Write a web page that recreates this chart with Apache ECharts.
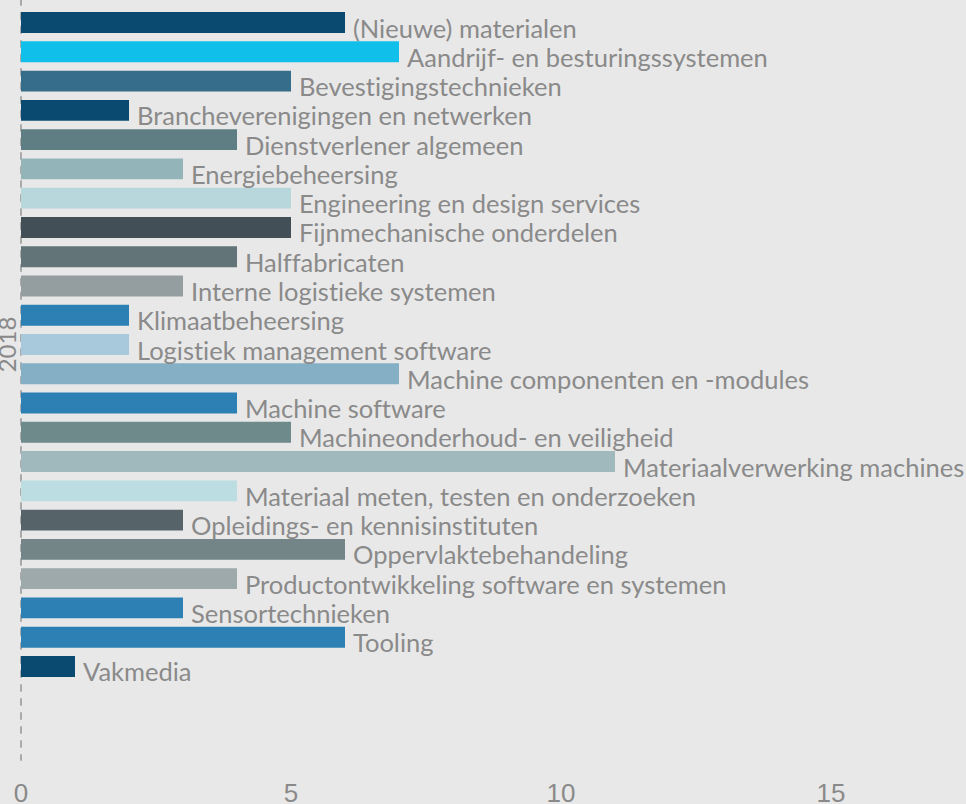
<!DOCTYPE html>
<html>
<head>
<meta charset="utf-8">
<script src="https://cdn.jsdelivr.net/npm/echarts@6/dist/echarts.min.js"></script>
<style>
  html, body { margin: 0; padding: 0; background: #e8e8e8; }
  #chart { width: 966px; height: 804px; }
  #chart text { font-variant-ligatures: none; }
</style>
</head>
<body>
<div id="chart"></div>
<script>
var categories = ['2018']

var seriesNames = [
  '(Nieuwe) materialen',
  'Aandrijf- en besturingssystemen',
  'Bevestigingstechnieken',
  'Brancheverenigingen en netwerken',
  'Dienstverlener algemeen',
  'Energiebeheersing',
  'Engineering en design services',
  'Fijnmechanische onderdelen',
  'Halffabricaten',
  'Interne logistieke systemen',
  'Klimaatbeheersing',
  'Logistiek management software',
  'Machine componenten en -modules',
  'Machine software',
  'Machineonderhoud- en veiligheid',
  'Materiaalverwerking machines',
  'Materiaal meten, testen en onderzoeken',
  'Opleidings- en kennisinstituten',
  'Oppervlaktebehandeling',
  'Productontwikkeling software en systemen',
  'Sensortechnieken',
  'Tooling',
  'Vakmedia'
]

var seriesValues = [6, 7, 5, 2, 4, 3, 5, 5, 4, 3, 2, 2, 7, 4, 5, 11, 4, 3, 6, 4, 3, 6, 1]

var seriesColors = [
  '#0a4a70', '#10c0ea', '#356d8a', '#0a4a70', '#5e7e83', '#93b4b9',
  '#b8d7dc', '#434f56', '#637478', '#949ea1', '#2d80b3', '#a8c9dc',
  '#85afc4', '#2d80b3', '#6f8a8b', '#9fb9bc', '#bcdde2', '#56646a',
  '#738586', '#9ea9ab', '#2d80b3', '#2d80b3', '#0a4a70'
]

var xTicks = [0, 5, 10, 15]

var chart = echarts.init(document.getElementById('chart'), null, { renderer: 'svg' })

var series = seriesNames.map(function (name, i) {
  return {
    name: name,
    type: 'bar',
    data: [seriesValues[i]],
    barGap: '40%',
    barCategoryGap: '20%',
    itemStyle: { color: seriesColors[i] },
    label: {
      show: true,
      position: 'right',
      distance: 8,
      offset: [0, 5],
      formatter: '{a}',
      fontFamily: 'Lato',
      fontSize: 25.5,
      color: '#8a8a8a'
    },
    animation: false
  }
})

chart.setOption({
  backgroundColor: '#e8e8e8',
  grid: {
    left: 21,
    right: 0,
    top: -71,
    bottom: 44,
    containLabel: false,
    outerBoundsMode: 'none'
  },
  xAxis: {
    type: 'value',
    min: 0,
    max: 17.5,
    interval: 5,
    axisLine: { show: false },
    axisTick: { show: false },
    splitLine: { show: false },
    axisLabel: {
      margin: 20,
      fontFamily: 'Liberation Sans',
      fontSize: 26,
      color: '#8a8a8a',
      showMaxLabel: false,
      formatter: function (v) {
        return xTicks.indexOf(v) >= 0 ? String(v) : ''
      }
    }
  },
  yAxis: {
    type: 'category',
    data: categories,
    inverse: true,
    axisLine: {
      show: true,
      lineStyle: { color: '#aaaaaa', width: 2, type: [6, 8] }
    },
    axisTick: { show: false },
    axisLabel: {
      rotate: 90,
      margin: 3,
      fontFamily: 'Lato',
      fontSize: 24,
      color: '#8a8a8a'
    }
  },
  series: series
})
</script>
</body>
</html>
